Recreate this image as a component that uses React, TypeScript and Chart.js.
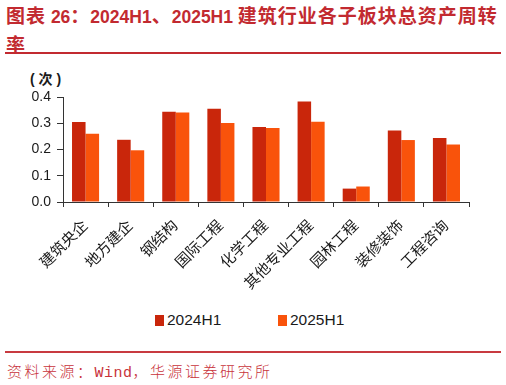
import React, { useEffect, useRef } from "react";
import { Chart, registerables } from "chart.js";

Chart.register(...registerables);

const categories = ["建筑央企", "地方建企", "钢结构", "国际工程", "化学工程", "其他专业工程", "园林工程", "装修装饰", "工程咨询"];
const series2024H1 = [0.305, 0.237, 0.344, 0.355, 0.286, 0.383, 0.051, 0.272, 0.244];
const series2025H1 = [0.26, 0.197, 0.341, 0.301, 0.282, 0.306, 0.059, 0.236, 0.219];
const seriesNames = ["2024H1", "2025H1"];
const seriesColors = ["#C9260B", "#F9530B"];
const yTicks = [0, 0.1, 0.2, 0.3, 0.4];

const RED = "#C22A30";
const LATIN = '"Liberation Sans", Arial, sans-serif';
const CJK = '"Noto Sans CJK SC", sans-serif';
const MIXED = '"Liberation Sans", "Noto Sans CJK SC", sans-serif';

export default function App() {
  const ref = useRef<HTMLCanvasElement | null>(null);

  useEffect(() => {
    if (!ref.current) return;
    const chart = new Chart(ref.current, {
      type: "bar",
      data: {
        labels: categories,
        datasets: [
          { label: seriesNames[0], data: series2024H1, backgroundColor: seriesColors[0], borderWidth: 0 },
          { label: seriesNames[1], data: series2025H1, backgroundColor: seriesColors[1], borderWidth: 0 },
        ],
      },
      options: {
        animation: false,
        responsive: false,
        devicePixelRatio: 1,
        layout: { padding: { top: 37, right: 37, left: 0, bottom: 0 } },
        plugins: { legend: { display: false }, tooltip: { enabled: false }, title: { display: false } },
        datasets: { bar: { categoryPercentage: 0.6, barPercentage: 1 } },
        scales: {
          x: {
            grid: { drawOnChartArea: false, drawTicks: true, tickLength: 5, color: "#333", offset: true },
            border: { display: true, color: "#333", width: 1 },
            ticks: {
              autoSkip: false,
              minRotation: 45,
              maxRotation: 45,
              padding: 10,
              color: "#1a1a1a",
              font: { family: MIXED, size: 15 },
            },
            afterFit: (scale: any) => {
              scale.height = 103;
            },
          },
          y: {
            min: 0,
            max: 0.4,
            afterBuildTicks: (scale: any) => {
              scale.ticks = yTicks.map((v) => ({ value: v }));
            },
            grid: { drawOnChartArea: false, drawTicks: true, tickLength: 6, color: "#333" },
            border: { display: true, color: "#333", width: 1 },
            ticks: {
              padding: 6,
              color: "#1a1a1a",
              font: { family: MIXED, size: 14 },
              callback: (v: any) => Number(v).toFixed(1),
            },
            afterFit: (scale: any) => {
              scale.width = 63;
            },
          },
        },
      },
    });
    return () => chart.destroy();
  }, []);

  const cjkSpan = (t: string) => (
    <span style={{ fontFamily: CJK, fontSize: 19, letterSpacing: 1 }}>{t}</span>
  );
  const latSpan = (t: string) => (
    <span style={{ fontFamily: LATIN, fontSize: 17.5 }}>{t}</span>
  );

  return (
    <div style={{ position: "absolute", left: 0, top: 0, width: 506, height: 385, background: "#fff", overflow: "hidden" }}>
      <div
        style={{
          position: "absolute",
          left: 6,
          top: 2,
          color: RED,
          fontWeight: "bold",
          lineHeight: "26px",
          whiteSpace: "nowrap",
        }}
      >
        <div>
          {cjkSpan("图表")}
          {latSpan(" 26")}
          {cjkSpan("：")}
          {latSpan("2024H1")}
          {cjkSpan("、")}
          {latSpan("2025H1 ")}
          {cjkSpan("建筑行业各子板块总资产周转")}
        </div>
        <div>{cjkSpan("率")}</div>
      </div>
      <div style={{ position: "absolute", left: 5, top: 52, width: 496, height: 2, background: RED }} />

      <div
        style={{
          position: "absolute",
          left: 30,
          top: 70,
          fontFamily: MIXED,
          fontSize: 14,
          fontWeight: "bold",
          color: "#1a1a1a",
          lineHeight: "18px",
          whiteSpace: "nowrap",
        }}
      >
        ( 次 )
      </div>

      <canvas ref={ref} width={506} height={245} style={{ position: "absolute", left: 0, top: 60, width: 506, height: 245 }} />

      {seriesNames.map((name, i) => (
        <div
          key={name}
          style={{
            position: "absolute",
            left: i === 0 ? 155 : 278,
            top: 310,
            height: 20,
            display: "flex",
            alignItems: "center",
            whiteSpace: "nowrap",
          }}
        >
          <div style={{ width: 9, height: 11, background: seriesColors[i], marginRight: 3 }} />
          <span style={{ fontFamily: LATIN, fontSize: 15.5, color: "#1a1a1a" }}>{name}</span>
        </div>
      ))}

      <div style={{ position: "absolute", left: 5, top: 351, width: 496, height: 2, background: "#C83A40" }} />
      <div
        style={{
          position: "absolute",
          left: 7,
          top: 361,
          color: "#C8333B",
          fontSize: 15,
          lineHeight: "20px",
          whiteSpace: "nowrap",
          fontWeight: 300,
        }}
      >
        <span style={{ fontFamily: CJK, letterSpacing: 2.5 }}>资料来源：</span>
        <span style={{ fontFamily: '"Liberation Mono", monospace', letterSpacing: 0.5 }}>Wind</span>
        <span style={{ fontFamily: CJK, letterSpacing: 2.5 }}>，华源证券研究所</span>
      </div>
    </div>
  );
}
